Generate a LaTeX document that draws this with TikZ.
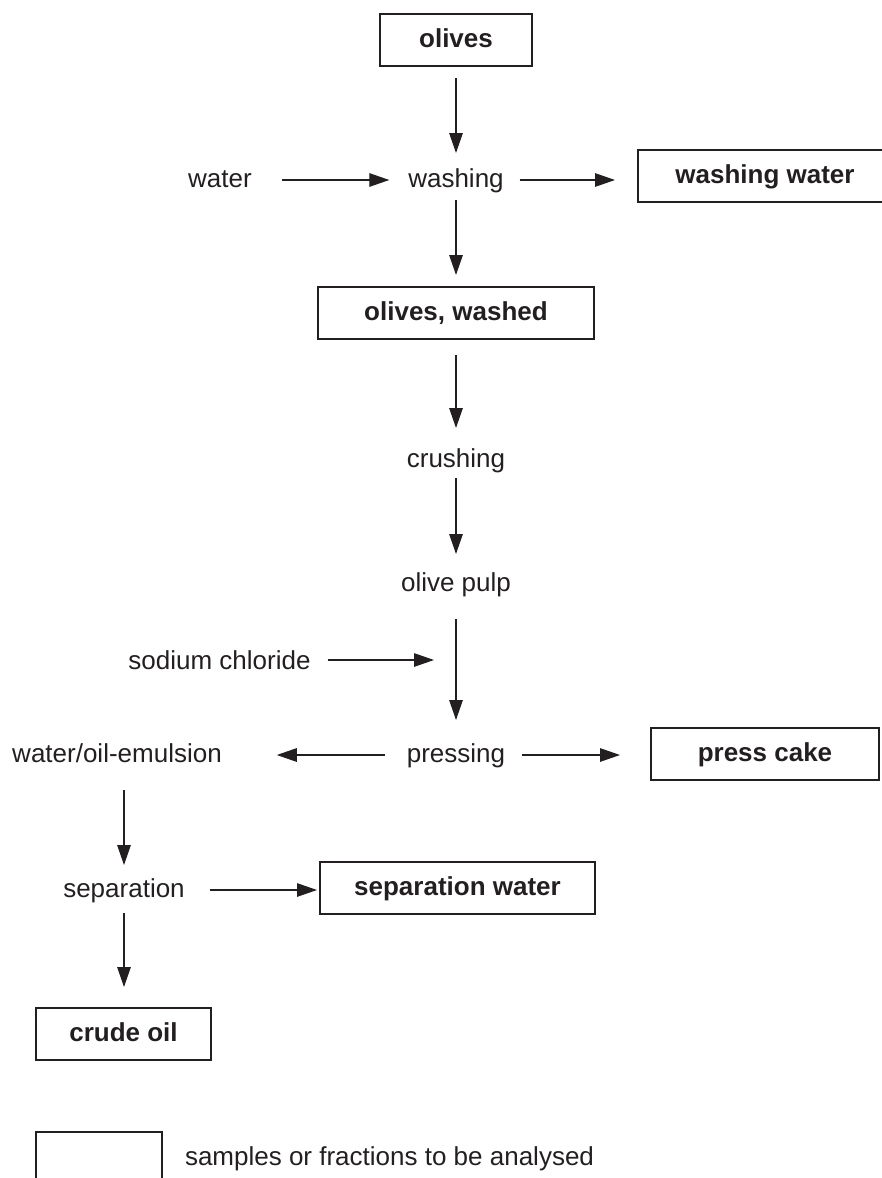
\documentclass[tikz,border=0pt]{standalone}
\usepackage{fontspec}
\setmainfont{Liberation Sans}
\usetikzlibrary{arrows.meta}
\definecolor{ink}{RGB}{35,31,32}
\begin{document}
\begin{tikzpicture}[x=1pt,y=-1pt,
  lbl/.style={inner sep=0pt, outer sep=0pt, text height=19pt, text depth=5pt,
    font=\fontsize{26}{30}\selectfont, text=ink},
  box/.style={lbl, draw=ink, line width=1.6pt,
    font=\fontsize{26}{30}\selectfont\bfseries, minimum height=52pt},
  arr/.style={draw=ink, line width=1.3pt, -{Triangle[length=20pt,width=13.5pt]}}]
\useasboundingbox (0,0) rectangle (882,1178);
% nodes
\node[box, minimum width=152pt] (olives) at (456,40) {olives};
\node[lbl] (washing) at (456,180) {washing};
\node[lbl] (water) at (220,180) {water};
\node[box, minimum width=254pt] (wwater) at (765,176) {washing water};
\node[box, minimum width=276pt] (owashed) at (456,313) {olives, washed};
\node[lbl] (crushing) at (456,460) {crushing};
\node[lbl] (pulp) at (456,584) {olive pulp};
\node[lbl] (nacl) at (219.5,662) {sodium chloride};
\coordinate (naclend) at (434,660);
\node[lbl] (pressing) at (456,755) {pressing};
\node[lbl] (emulsion) at (117,755) {water/oil-emulsion};
\node[box, minimum width=228pt] (cake) at (765,754) {press cake};
\node[lbl] (separation) at (124,890) {separation};
\node[box, minimum width=275pt] (sepwater) at (457.5,888) {separation water};
\node[box, minimum width=175pt] (crude) at (123.5,1034) {crude oil};
\node[draw=ink, line width=1.6pt, minimum width=126pt, minimum height=60pt, inner sep=0pt] (legendbox) at (99,1162) {};
\node[lbl, anchor=west] (legendtext) at (185,1158) {samples or fractions to be analysed};
% connectors
\draw[arr, shorten <=12pt, shorten >=15pt] (olives.south) -- (washing.north);
\draw[arr, shorten <=30pt, shorten >=19pt] (water.east) -- (washing.west);
\draw[arr, shorten <=16pt, shorten >=23pt] (washing.east) -- (washing.east -| wwater.west);
\draw[arr, shorten <=8pt, shorten >=12pt] (washing.south) -- (owashed.north);
\draw[arr, shorten <=16pt, shorten >=20pt] (owashed.south) -- (crushing.north);
\draw[arr, shorten <=6pt, shorten >=18pt] (crushing.south) -- (pulp.north);
\draw[arr, shorten <=23pt, shorten >=23pt] (pulp.south) -- (pressing.north);
\draw[arr, shorten <=17pt] (nacl.east |- naclend) -- (naclend);
\draw[arr, shorten <=22pt, shorten >=55pt] (pressing.west) -- (emulsion.east);
\draw[arr, shorten <=17pt, shorten >=31pt] (pressing.east) -- (pressing.east -| cake.west);
\draw[arr, shorten <=23pt, shorten >=13pt] (separation.north |- emulsion.south) -- (separation.north);
\draw[arr, shorten <=25pt, shorten >=3pt] (separation.east) -- (separation.east -| sepwater.west);
\draw[arr, shorten <=11pt, shorten >=21pt] (separation.south) -- (separation.south |- crude.north);
\end{tikzpicture}
\end{document}
